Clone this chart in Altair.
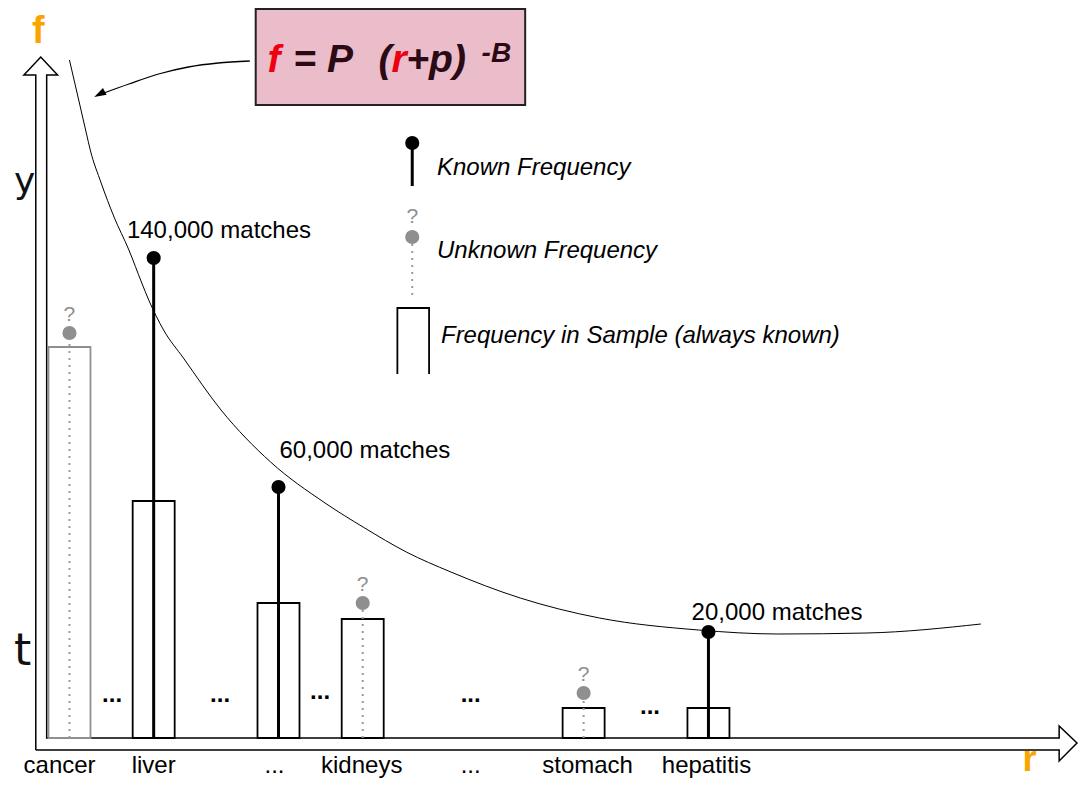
import altair as alt
import pandas as pd

# ---------------- data (heights measured above the baseline of the r axis) -------------
bar_x = [65, 150, 276, 361, 584, 710]
sample_freq = [391, 237, 135, 119, 30, 30]          # frequency in sample (bars)
true_freq = [405, 480, 251, 135, 45, 106]           # true frequency (lollipops)
freq_known = [False, True, True, False, False, True]
bar_term = ["cancer", "liver", "gap", "kidneys", "stomach", "hepatitis"]

axis_labels = ["cancer", "liver", "...", "kidneys", "...", "stomach", "hepatitis"]
axis_label_x = [55, 150, 272, 360, 470, 588, 708]
axis_label_y = [-35] * 7

gap_x = [108, 217, 318, 470, 651]
gap_y = [36, 36, 39, 36, 24]

match_text = ["140,000 matches", "60,000 matches", "20,000 matches"]
match_x = [123, 277, 693]
match_y = [500, 280, 118]

curve_x = [65, 72, 82, 86, 97, 110, 125, 138, 145, 160, 180, 218, 268, 323, 363,
           405, 450, 520, 600, 700, 780, 870, 985]
curve_y = [678, 648, 605, 588, 555, 521, 488, 455, 438, 408, 380, 328, 276, 235, 210,
           186, 166, 140, 120, 108, 104, 105, 114]

# hollow axis arrows outline
axis_px = [31, 31, 19, 36, 53, 42, 42, 1064, 1064, 1082, 1064, 1064, 31]
axis_py = [-12, 663, 663, 681, 663, 663, 0, 0, 12, -5, -23, -12, -12]

legend_text = ["Known Frequency", "Unknown Frequency", "Frequency in Sample (always known)"]
legend_tx = [436, 436, 440]
legend_ty = [563, 480, 395]

formula_parts = ["f", "= P", "(", "r", "+p)", "-B"]
formula_px = [265, 291, 377, 390, 405, 481]
formula_py = [666, 666, 666, 666, 666, 676]
formula_red = [True, False, False, True, False, False]
formula_sup = [False, False, False, False, False, True]

pointer_x = [247, 215, 185, 155, 125, 97]
pointer_y = [677, 675, 671, 664, 654, 644]

# ---------------- scales ----------------
xs = alt.Scale(domain=[8, 1080], nice=False, zero=False)
ys = alt.Scale(domain=[-41, 730], nice=False, zero=False)


def X(f):
    return alt.X(f, type="quantitative", scale=xs, axis=None)


def Y(f):
    return alt.Y(f, type="quantitative", scale=ys, axis=None)


FONT = "Liberation Sans"
GRAY = "#8f8f8f"
ORANGE = "#FBA400"
RED = "#EE0010"
DARK = "#2a0a14"

terms = pd.DataFrame({"x": bar_x, "sample": sample_freq, "true": true_freq,
                      "known": freq_known, "term": bar_term})
terms["zero"] = 0

layers = []

# axis arrows
axis_df = pd.DataFrame({"x": axis_px, "y": axis_py, "i": range(len(axis_px))})
layers.append(alt.Chart(axis_df).mark_line(color="black", strokeWidth=1.5, strokeJoin="miter")
              .encode(x=X("x"), y=Y("y"), order="i:Q"))

# sample bars
layers.append(alt.Chart(terms).mark_bar(width=42, fill="white", strokeWidth=1.8)
              .encode(x=X("x"), y=Y("sample"), y2="zero:Q",
                      stroke=alt.condition("datum.term == 'cancer'", alt.value(GRAY), alt.value("black"))))

# stems
layers.append(alt.Chart(terms).transform_filter("datum.known").mark_rule(color="black", strokeWidth=3)
              .encode(x=X("x"), y=Y("zero"), y2="true:Q"))
layers.append(alt.Chart(terms).transform_filter("!datum.known")
              .mark_rule(color="#9a9a9a", strokeWidth=2, strokeDash=[2, 5])
              .encode(x=X("x"), y=Y("zero"), y2="true:Q"))

# curve
curve_df = pd.DataFrame({"x": curve_x, "y": curve_y})
layers.append(alt.Chart(curve_df).mark_line(color="black", strokeWidth=1, interpolate="monotone")
              .encode(x=X("x"), y=Y("y")))

# dots
layers.append(alt.Chart(terms).mark_point(filled=True, size=200, opacity=1, shape="circle")
              .encode(x=X("x"), y=Y("true"),
                      color=alt.condition("datum.known", alt.value("black"), alt.value(GRAY))))
layers.append(alt.Chart(terms).transform_filter("!datum.known")
              .mark_text(text="?", fontSize=21, font=FONT, color=GRAY, baseline="alphabetic", dy=-12)
              .encode(x=X("x"), y=Y("true")))

# match labels
match_df = pd.DataFrame({"x": match_x, "y": match_y, "t": match_text})
layers.append(alt.Chart(match_df).mark_text(align="left", baseline="alphabetic", fontSize=24,
                                            font=FONT, color="black")
              .encode(x=X("x"), y=Y("y"), text="t:N"))

# gaps (...)
gap_df = pd.DataFrame({"x": gap_x, "y": gap_y})
layers.append(alt.Chart(gap_df).mark_text(text="...", baseline="alphabetic", fontSize=24,
                                          font=FONT, fontWeight="bold", color="black")
              .encode(x=X("x"), y=Y("y")))

# axis category labels
lab_df = pd.DataFrame({"x": axis_label_x, "y": axis_label_y, "t": axis_labels})
layers.append(alt.Chart(lab_df).mark_text(baseline="alphabetic", fontSize=24, font=FONT, color="black")
              .encode(x=X("x"), y=Y("y"), text="t:N"))

# legend glyphs
leg_known = pd.DataFrame({"x": [411], "y": [595], "y2": [552]})
layers.append(alt.Chart(leg_known).mark_rule(color="black", strokeWidth=3)
              .encode(x=X("x"), y=Y("y"), y2="y2:Q"))
layers.append(alt.Chart(leg_known).mark_point(filled=True, size=200, opacity=1, color="black", shape="circle")
              .encode(x=X("x"), y=Y("y")))
leg_unk = pd.DataFrame({"x": [411], "y": [501], "y2": [441]})
layers.append(alt.Chart(leg_unk).mark_rule(color="#9a9a9a", strokeWidth=2, strokeDash=[2, 5])
              .encode(x=X("x"), y=Y("y"), y2="y2:Q"))
layers.append(alt.Chart(leg_unk).mark_point(filled=True, size=200, opacity=1, color=GRAY, shape="circle")
              .encode(x=X("x"), y=Y("y")))
layers.append(alt.Chart(leg_unk).mark_text(text="?", fontSize=21, font=FONT, color=GRAY,
                                           baseline="alphabetic", dy=-14)
              .encode(x=X("x"), y=Y("y")))
leg_bar = pd.DataFrame({"x": [396, 396, 428, 428], "y": [364, 430, 430, 364], "i": [0, 1, 2, 3]})
layers.append(alt.Chart(leg_bar).mark_line(color="black", strokeWidth=1.8, strokeJoin="miter")
              .encode(x=X("x"), y=Y("y"), order="i:Q"))
leg_df = pd.DataFrame({"x": legend_tx, "y": legend_ty, "t": legend_text})
layers.append(alt.Chart(leg_df).mark_text(align="left", baseline="alphabetic", fontSize=24, font=FONT,
                                          fontStyle="italic", color="black")
              .encode(x=X("x"), y=Y("y"), text="t:N"))

# formula box
box_df = pd.DataFrame({"x": [253], "x2": [525], "y": [729], "y2": [633]})
layers.append(alt.Chart(box_df).mark_rect(fill="#EBBCCA", stroke="#222222", strokeWidth=2)
              .encode(x=X("x"), x2="x2:Q", y=Y("y"), y2="y2:Q"))
form_df = pd.DataFrame({"x": formula_px, "y": formula_py, "t": formula_parts,
                        "red": formula_red, "sup": formula_sup})
layers.append(alt.Chart(form_df).transform_filter("!datum.sup")
              .mark_text(align="left", baseline="alphabetic", fontSize=39, font=FONT,
                         fontStyle="italic", fontWeight="bold")
              .encode(x=X("x"), y=Y("y"), text="t:N",
                      color=alt.condition("datum.red", alt.value(RED), alt.value(DARK))))
layers.append(alt.Chart(form_df).transform_filter("datum.sup")
              .mark_text(align="left", baseline="alphabetic", fontSize=28, font=FONT,
                         fontStyle="italic", fontWeight="bold", color=DARK)
              .encode(x=X("x"), y=Y("y"), text="t:N"))

# pointer arrow from formula to curve
ptr_df = pd.DataFrame({"x": pointer_x, "y": pointer_y, "i": range(len(pointer_x))})
layers.append(alt.Chart(ptr_df).mark_line(color="black", strokeWidth=1.3, interpolate="cardinal")
              .encode(x=X("x"), y=Y("y"), order="i:Q"))
head_df = pd.DataFrame({"x": [95.3], "y": [643.8]})
layers.append(alt.Chart(head_df).mark_point(shape="M0,-1L0.65,1L-0.65,1Z", filled=True, opacity=1,
                                            color="black", size=144, angle=242)
              .encode(x=X("x"), y=Y("y")))

# axis letters
ax_df = pd.DataFrame({"x": [33.5, 1034], "y": [695, -33], "t": ["f", "r"], "fs": [38, 36]})
layers.append(alt.Chart(ax_df).mark_text(baseline="alphabetic", font=FONT,
                                         fontWeight="bold", color=ORANGE)
              .encode(x=X("x"), y=Y("y"), text="t:N", size=alt.Size("fs:Q", scale=None)))

# fragments of words at the left edge
cut_df = pd.DataFrame({"x": [9, 9], "y": [545, 73], "t": ["y", "t"], "fs": [36, 44]})
layers.append(alt.Chart(cut_df).mark_text(align="left", baseline="alphabetic", font="DejaVu Sans",
                                          color="#111111")
              .encode(x=X("x"), y=Y("y"), text="t:N", size=alt.Size("fs:Q", scale=None)))

chart = (alt.layer(*layers)
         .properties(width=1072, height=771, autosize="none", padding=0, background="white")
         .configure_view(stroke=None))

chart.save("out.html", embed_options={"renderer": "svg", "actions": False})
